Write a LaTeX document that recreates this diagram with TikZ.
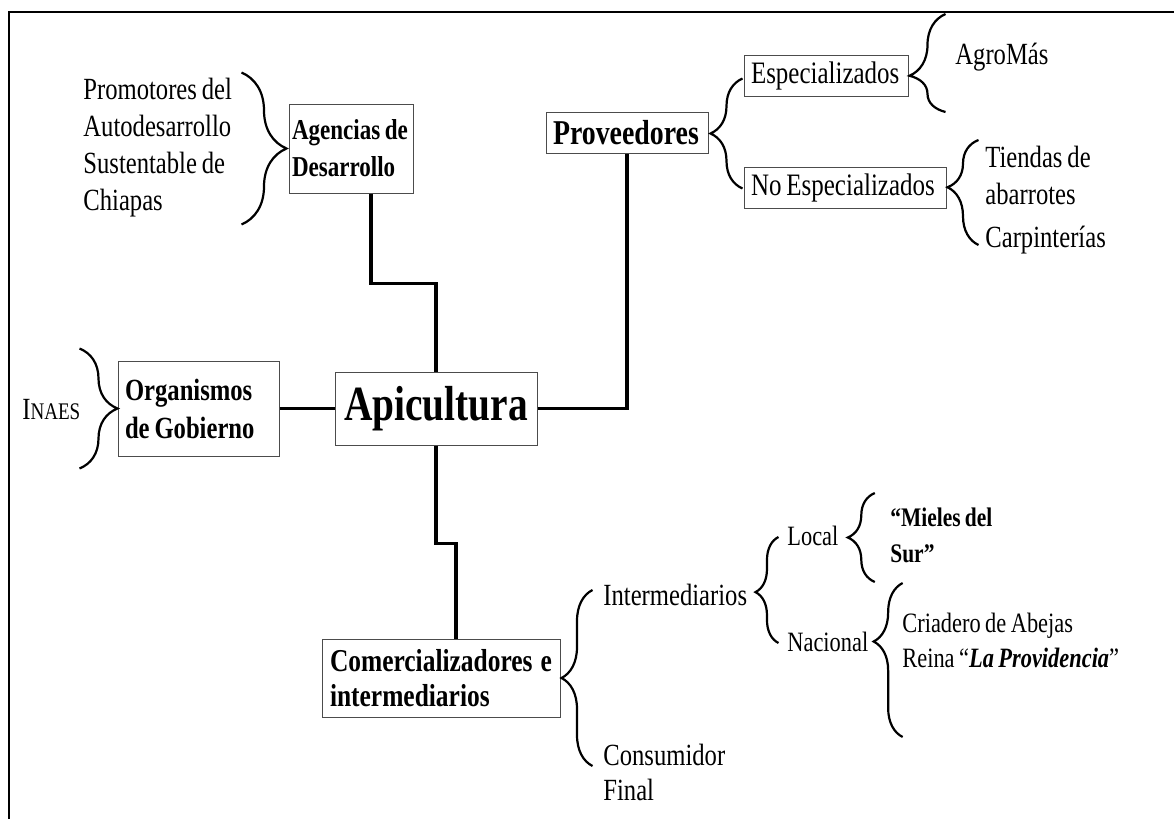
\documentclass[tikz,border=0pt]{standalone}
\usepackage{fontspec}
\setmainfont{Liberation Serif}[FakeStretch=0.8, WordSpace=0.8]
\usetikzlibrary{decorations.pathreplacing}

\newcommand\txtfont{\fontsize{15.4}{18.5}\selectfont}
\newcommand\boxfont{\fontsize{15.4}{19}\selectfont\bfseries}
\newcommand\natsp{\spaceskip=0pt\xspaceskip=0pt\relax}

\begin{document}
\begin{tikzpicture}[
	x=0.5pt, y=-0.5pt,
	box/.style={draw=black!70, line width=0.5pt, inner xsep=3.5pt, inner ysep=0pt, align=left, font=\boxfont, execute at begin node=\natsp},
	lbl/.style={anchor=west, inner sep=0pt, align=left, font=\txtfont},
	link/.style={line width=1.6pt},
	brc/.style={decorate, decoration={brace, amplitude=#1}, line width=1.1pt},
	frame/.style={line width=1.4pt}
]
	\useasboundingbox (0,0) rectangle (1174,819);
	\draw[frame] (9,819) -- (9,12) -- (1174,12);

	% centre and the four groups
	\node[box, minimum width=101pt, minimum height=36.5pt, align=center, font=\fontsize{24.6}{28}\selectfont\bfseries] (apicultura) at (436,408.5) {Apicultura};
	\node[box, inner xsep=1.5pt, text width=59pt, minimum height=44.5pt, font=\fontsize{14.4}{18.5}\selectfont\bfseries] (agencias) at (351,148.5) {\mbox{Agencias de}\\Desarrollo};
	\node[box, text width=74pt, minimum height=20.5pt, font=\fontsize{17.4}{19}\selectfont\bfseries] (proveedores) at (627,132.5) {Proveedores};
	\node[box, text width=73.5pt, minimum height=47.5pt] (organismos) at (198.5,408.5) {Organismos\\\mbox{de Gobierno}};
	\node[box, inner xsep=4pt, text width=111pt, minimum height=39pt, font=\fontsize{15.9}{17.5}\selectfont\bfseries] (comercializadores) at (441,678) {Comercializadores\hfill e\\intermediarios};

	% proveedores
	\node[box, text width=75pt, minimum height=20.5pt, font=\fontsize{15.6}{18.5}\selectfont] (especializados) at (826,75.5) {Especializados};
	\node[box, text width=94pt, minimum height=20.5pt, font=\fontsize{15.6}{18.5}\selectfont] (noesp) at (845,187.5) {\mbox{No Especializados}};
	\node[lbl] (agromas) at (955,57) {AgroMás};
	\node[lbl] (tiendas) at (985,175) {Tiendas de\\abarrotes};
	\node[lbl] (carpinterias) at (985,240) {Carpinterías};

	% agencias and organismos
	\node[lbl] (promotores) at (83,148) {Promotores del\\Autodesarrollo\\Sustentable de\\Chiapas};
	\node[lbl] (inaes) at (22,410) {I{\fontsize{11.9}{13}\selectfont NAES}};

	% comercializadores
	\node[lbl] (intermediarios) at (603,595) {Intermediarios};
	\node[lbl, font=\fontsize{15.4}{17.5}\selectfont] (consumidor) at (603,772) {Consumidor\\Final};
	\node[lbl, font=\fontsize{14}{16}\selectfont] (local) at (787,536) {Local};
	\node[lbl, font=\fontsize{14}{16}\selectfont] (nacional) at (787,642) {Nacional};
	\node[lbl, font=\fontsize{13.4}{18}\selectfont\bfseries] (mieles) at (890,535) {“Mieles del\\Sur”};
	\node[lbl, font=\fontsize{14}{17.5}\selectfont] (criadero) at (902,640.5) {Criadero de Abejas\\Reina “\textbf{\textit{La Providencia}}”};

	% connectors
	\draw[link] ([xshift=10pt]agencias.south) -- ++(0,90) -| (apicultura.north);
	\draw[link] (apicultura.east) -| (proveedores.south);
	\draw[link] (organismos.east) -- (apicultura.west);
	\draw[link] (apicultura.south) -- ++(0,98) -| ([xshift=7.5pt]comercializadores.north);

	% braces
	\draw[brc=22.5pt, shift={(agencias.west)}] (-47,-76) -- (-47,76);
	\draw[brc=16pt, shift={(proveedores.east)}] (34,56) -- (34,-54);
	\draw[brc=18pt, decoration={aspect=0.37}, shift={(especializados.east)}] (37,36.5) -- (37,-61.5);
	\draw[brc=15.5pt, decoration={aspect=0.55}, shift={(noesp.east)}] (32,57.5) -- (32,-47.5);
	\draw[brc=19pt, shift={(organismos.west)}] (-38,-60) -- (-38,60);
	\draw[brc=15.5pt, shift={(comercializadores.east)}] (32,88) -- (32,-88);
	\draw[brc=11.5pt, decoration={aspect=0.48}, shift={(intermediarios.east)}] (31,48) -- (31,-58);
	\draw[brc=13.5pt, shift={(local.east)}] (36,46) -- (36,-43);
	\draw[brc=14.5pt, decoration={aspect=0.62}, shift={(nacional.east)}] (34,95) -- (34,-59);
\end{tikzpicture}
\end{document}
